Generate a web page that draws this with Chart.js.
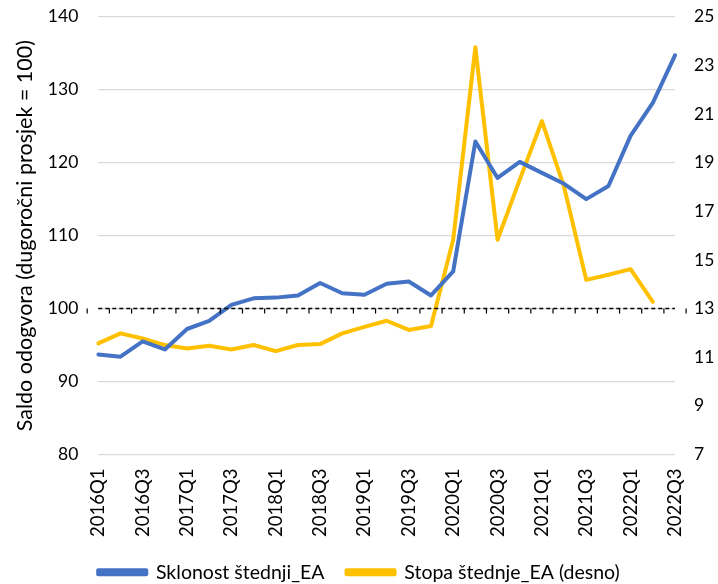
<!DOCTYPE html>
<html><head><meta charset="utf-8">
<script src="https://cdn.jsdelivr.net/npm/chart.js@4/dist/chart.umd.min.js"></script>
<style>html,body{margin:0;padding:0;background:#fff}</style>
</head><body>
<canvas id="c" width="718" height="584"></canvas>
<script>
const categories = ["2016Q1","2016Q2","2016Q3","2016Q4","2017Q1","2017Q2","2017Q3","2017Q4","2018Q1","2018Q2","2018Q3","2018Q4","2019Q1","2019Q2","2019Q3","2019Q4","2020Q1","2020Q2","2020Q3","2020Q4","2021Q1","2021Q2","2021Q3","2021Q4","2022Q1","2022Q2","2022Q3"];
const sklonostStednji = [93.7,93.4,95.5,94.4,97.2,98.3,100.5,101.4,101.5,101.8,103.5,102.1,101.9,103.4,103.7,101.8,105.1,122.9,117.9,120.1,118.6,117.1,115.0,116.8,123.7,128.2,134.7];
const stopaStednje = [11.57,11.98,11.77,11.50,11.36,11.47,11.32,11.50,11.25,11.50,11.54,11.98,12.25,12.50,12.12,12.28,15.83,23.74,15.83,18.3,20.71,18.0,14.18,14.39,14.62,13.28,null];
const leftTicks = [80,90,100,110,120,130,140];
const rightTicks = [7,9,11,13,15,17,19,21,23,25];
const referenceLevel = 100;

const FONT = "Lato";

const axisAt100 = {
  id: 'axisAt100',
  afterDatasetsDraw(chart) {
    const {ctx, chartArea, scales} = chart;
    const y = scales.y.getPixelForValue(referenceLevel);
    const xs = scales.x;
    ctx.save();
    ctx.strokeStyle = '#000';
    ctx.lineWidth = 1.5;
    ctx.setLineDash([4,3]);
    ctx.beginPath();
    ctx.moveTo(chartArea.left, y);
    ctx.lineTo(chartArea.right, y);
    ctx.stroke();
    ctx.setLineDash([]);
    ctx.lineWidth = 1.2;
    const n = categories.length;
    const step = (xs.getPixelForValue(1) - xs.getPixelForValue(0));
    for (let k = 0; k <= n; k++) {
      const x = xs.getPixelForValue(0) - step/2 + k*step;
      ctx.beginPath();
      ctx.moveTo(x, y);
      ctx.lineTo(x, y + 5);
      ctx.stroke();
    }
    ctx.restore();
  }
};

function fixVertical(width) {
  return function(s) { s.width = width; s.paddingTop = 0; s.paddingBottom = 0; };
}

new Chart(document.getElementById('c'), {
  type: 'line',
  data: {
    labels: categories,
    datasets: [
      {label: 'Sklonost štednji_EA', data: sklonostStednji, yAxisID: 'y',
       borderColor: '#4472C4', backgroundColor: '#4472C4', borderWidth: 4,
       pointRadius: 0, tension: 0, borderCapStyle: 'round', borderJoinStyle: 'round'},
      {label: 'Stopa štednje_EA (desno)', data: stopaStednje, yAxisID: 'y1',
       borderColor: '#FFC000', backgroundColor: '#FFC000', borderWidth: 4,
       pointRadius: 0, tension: 0, borderCapStyle: 'round', borderJoinStyle: 'round'}
    ]
  },
  options: {
    responsive: false,
    animation: false,
    layout: {padding: {top: 16.7, left: 0, right: 0, bottom: -8}},
    plugins: {
      legend: {
        position: 'bottom',
        labels: {boxWidth: 48, boxHeight: 4, padding: 22, color: '#000',
                 font: {family: FONT, size: 19.5}}
      },
      tooltip: {enabled: false}
    },
    scales: {
      x: {
        grid: {display: false, drawTicks: false},
        border: {display: false},
        ticks: {
          autoSkip: false, minRotation: 90, maxRotation: 90, color: '#000',
          font: {family: FONT, size: 18.5}, padding: 14,
          callback: function(v, i) { return i % 2 === 0 ? categories[i] : ''; }
        },
        afterFit(s) { s.height = 86; s.paddingLeft = 0; s.paddingRight = 0; }
      },
      y: {
        position: 'left', min: 80, max: 140,
        afterBuildTicks(s) { s.ticks = leftTicks.map(v => ({value: v})); },
        grid: {color: '#d9d9d9', lineWidth: 1.3, drawTicks: false},
        border: {display: false},
        ticks: {color: '#000', font: {family: FONT, size: 17.5}, padding: 20},
        title: {display: true, text: 'Saldo odogvora (dugoročni prosjek = 100)', color: '#000',
                font: {family: FONT, size: 21.5}, padding: {top: 12, bottom: 0}},
        afterFit: fixVertical(98.3)
      },
      y1: {
        position: 'right', min: 7, max: 25,
        afterBuildTicks(s) { s.ticks = rightTicks.map(v => ({value: v})); },
        grid: {display: false, drawTicks: false},
        border: {display: false},
        ticks: {color: '#000', font: {family: FONT, size: 17.5}, padding: 19},
        afterFit: fixVertical(43)
      }
    }
  },
  plugins: [axisAt100]
});
</script>
</body></html>
